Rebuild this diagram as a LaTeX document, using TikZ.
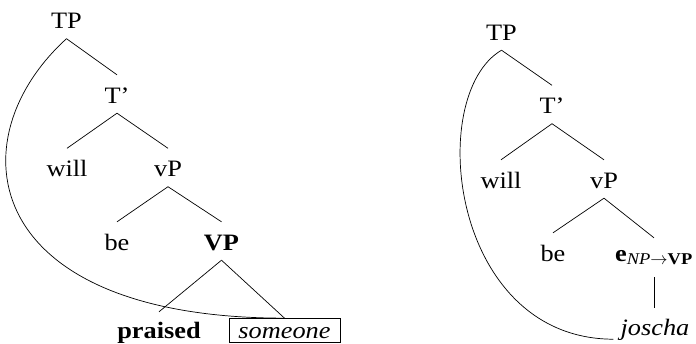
\documentclass[tikz,border=0pt]{standalone}
\usepackage{fontspec}
\setmainfont{Liberation Serif}[FakeStretch=1.12]
\begin{document}
\begin{tikzpicture}[x=1pt,y=-1pt,
  lab/.style={anchor=base,inner sep=0pt,text height=28pt,text depth=10pt,font=\fontsize{23.5}{28}\selectfont},
  edge/.style={draw=black,line width=0.7pt},
  movecurve/.style={draw=black,line width=0.7pt}]
\useasboundingbox (0,0) rectangle (696,343);
% left tree
\node[lab] (TPa) at (66.5,28.5) {TP};
\node[lab] (Tba) at (117,103) {T'};
\node[lab] (willa) at (67,176.5) {will};
\node[lab] (vPa) at (168,176.5) {vP};
\node[lab] (bea) at (117,250) {be};
\node[lab] (VPa) at (221.5,250) {\textbf{VP}};
\node[lab,text height=26pt] (praised) at (159,338) {\textbf{praised}};
\node[anchor=base,draw,line width=0.7pt,font=\fontsize{23.5}{28}\selectfont,text height=15pt,text depth=0pt,inner ysep=4.5pt,minimum width=111pt] (someone) at (284.5,338) {\textit{someone}};
\draw[edge] (TPa.south) -- (Tba.north);
\draw[edge] (Tba.south) -- (willa.north);
\draw[edge] (Tba.south) -- (vPa.north);
\draw[edge] (vPa.south) -- (bea.north);
\draw[edge] (vPa.south) -- (VPa.north);
\draw[edge] (VPa.south) -- (praised.north);
\draw[edge] (VPa.south) -- (someone.north);
\draw[movecurve] (TPa.south) .. controls (-45,140) and (-20,318) .. (someone.north);
% right tree
\node[lab] (TPb) at (501.5,40) {TP};
\node[lab] (Tbb) at (552,113.5) {T'};
\node[lab] (willb) at (501,188) {will};
\node[lab] (vPb) at (604,188) {vP};
\node[lab] (beb) at (553,261) {be};
\node[lab,text height=23pt,text depth=16pt] (eb) at (654,261) {\textbf{e}\textsubscript{\textit{NP}$\rightarrow$\textbf{VP}}};
\node[lab,text height=27pt,text depth=4pt,inner xsep=7pt] (joscha) at (655,335) {\textit{joscha}};
\draw[edge] (TPb.south) -- (Tbb.north);
\draw[edge] (Tbb.south) -- (willb.north);
\draw[edge] (Tbb.south) -- (vPb.north);
\draw[edge] (vPb.south) -- (beb.north);
\draw[edge] (vPb.south) -- (eb.north);
\draw[edge] (eb.south) -- (eb.south |- joscha.north);
\draw[movecurve] (TPb.south) .. controls (425,95) and (450,339) .. (joscha.south west);
\end{tikzpicture}
\end{document}
